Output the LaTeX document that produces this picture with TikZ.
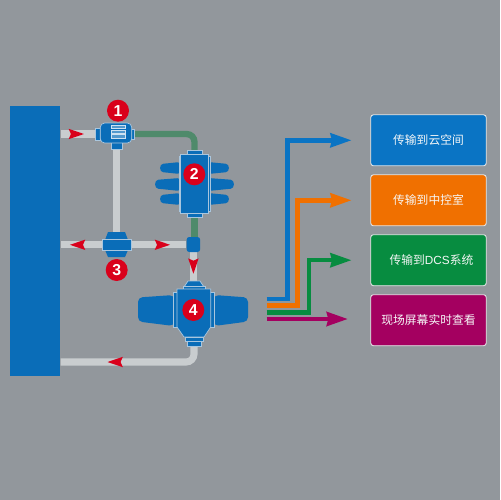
\documentclass[tikz,border=0pt]{standalone}
\usepackage{fontspec}
\setmainfont{Liberation Sans}
\newfontfamily\cjk{Noto Sans CJK SC}
\usetikzlibrary{arrows.meta, backgrounds, decorations.markings}
\definecolor{bgGray}{HTML}{92979C}
\definecolor{partBlue}{HTML}{0A6DB8}
\definecolor{partLine}{HTML}{A9C6DE}
\definecolor{pipeGray}{HTML}{C9CDCF}
\definecolor{pipeGreen}{HTML}{4F8A6B}
\definecolor{flowRed}{HTML}{D9001B}
\definecolor{lineBlue}{HTML}{0A74C4}
\definecolor{lineOrange}{HTML}{F07000}
\definecolor{lineGreen}{HTML}{078C40}
\definecolor{linePurple}{HTML}{A40060}

\begin{document}
\begin{tikzpicture}[
  x=0.02cm, y=-0.02cm,
  part/.style={draw=partLine, fill=partBlue, line width=0.4pt},
  block/.style={rectangle, part, inner sep=0pt},
  wing/.style={fill=partBlue, rounded corners=1.5pt},
  badge/.style={circle, fill=flowRed, draw=none, minimum size=0.44cm, inner sep=0pt, text=white, font=\fontsize{9}{9}\selectfont\bfseries},
  pipe/.style={draw=pipeGray, line width=4pt, rounded corners=4.5pt},
  greenpipe/.style={draw=pipeGreen, line width=3.6pt, rounded corners=4.5pt},
  flowat/.style={postaction={decorate, decoration={markings, mark=at position #1 with {\arrow{Stealth[length=8.6pt, width=5.4pt, inset=1pt, color=flowRed]}}}}},
  feed/.style={line width=2.6pt, -{Stealth[length=12pt, width=7.8pt, inset=0.8pt]}, shorten >=10.6pt},
  target/.style={rectangle, draw=white!75!bgGray, line width=0.5pt, rounded corners=1.5pt, minimum width=2.31cm, minimum height=1.02cm, inner sep=0pt, text=white!92!bgGray, font=\cjk\fontsize{6.7}{8}\selectfont},
]

% === BACKGROUND AND TANK ===
\begin{scope}[on background layer]
\fill[bgGray] (0,0) rectangle (500,500);
\end{scope}
\node[rectangle, fill=partBlue, minimum width=1.02cm, minimum height=5.4cm, inner sep=0pt] (tank) at (35,241) {};

% === DEVICE 1 ===
\node[block, minimum width=0.09cm, minimum height=0.24cm] (pumpleft) at (98,134) {};
\node[block, minimum width=0.06cm, minimum height=0.2cm] (pumpright) at (133,134) {};
\node[block, minimum width=0.23cm, minimum height=0.16cm] (pumpfoot) at (116.8,145) {};
\node[block, rounded corners=2.5pt, minimum width=0.63cm, minimum height=0.4cm] (pump) at (116,133) {};
\draw[part, fill=partBlue!70!white, draw=white!80!partBlue] (111,125) rectangle (125,128.5);
\draw[part, fill=partBlue!70!white, draw=white!80!partBlue] (111,130) rectangle (125,133);
\draw[part, fill=partBlue!70!white, draw=white!80!partBlue] (111,134.5) rectangle (125,138);

% === DEVICE 2 ===
\fill[wing] (180,162) -- (166,163.5) .. controls (159,164) and (159,172) .. (166,172.5) -- (180,174) -- cycle;
\fill[wing] (180,178) -- (161,179.5) .. controls (154,180) and (154,188.5) .. (161,189) -- (180,191) -- cycle;
\fill[wing] (180,193) -- (166,194.5) .. controls (159,195) and (159,203) .. (166,203.5) -- (180,205) -- cycle;
\fill[wing] (208,162) -- (223,163.5) .. controls (230,164) and (230,172) .. (223,172.5) -- (208,174) -- cycle;
\fill[wing] (208,178) -- (228,179.5) .. controls (235,180) and (235,188.5) .. (228,189) -- (208,191) -- cycle;
\fill[wing] (208,193) -- (223,194.5) .. controls (230,195) and (230,203) .. (223,203.5) -- (208,205) -- cycle;
\node[block, minimum width=0.3cm, minimum height=0.1cm] (senstop) at (194.5,153) {};
\node[block, minimum width=0.3cm, minimum height=0.1cm] (sensbot) at (194.5,215) {};
\draw[part] (179,156) rectangle (210,211);
\node[block, minimum width=0.55cm, minimum height=1.18cm] (sensor) at (194.5,183.5) {};

% === DEVICE 3 ===
\draw[part, draw=none] (108,232) -- (125,232) -- (128,240) -- (105,240) -- cycle;
\draw[part, draw=none] (105,250) -- (128,250) -- (125,257) -- (108,257) -- cycle;
\node[block, minimum width=0.57cm, minimum height=0.23cm] (valve) at (117,244.8) {};

% === JUNCTION ===
\node[rectangle, fill=partBlue, rounded corners=1.5pt, minimum width=0.27cm, minimum height=0.3cm, inner sep=0pt] (junction) at (193.4,244.5) {};

% === DEVICE 4 ===
\fill[wing, rounded corners=2.5pt] (174,295) -- (138,297.5) -- (138,321.5) -- (174,326) -- cycle;
\fill[wing, rounded corners=2.5pt] (214,295) -- (248,297.5) -- (248,321.5) -- (214,326) -- cycle;
\draw[part] (173.3,292) rectangle (214.6,327);
\draw[part] (188,281) -- (200,281) -- (204,287) -- (184,287) -- cycle;
\node[block, minimum width=0.44cm, minimum height=0.05cm] (meterbar) at (194,288) {};
\coordinate (metertop) at (194,281);
\draw[part] (177,289) -- (210.7,289) -- (210.7,327) -- (204,337) -- (184,337) -- (177,327) -- cycle;
\draw[part] (185,337) rectangle (203,341);
\node[block, minimum width=0.28cm, minimum height=0.1cm] (meterbot) at (194,343.5) {};

% === BADGES ===
\node[badge] (one) at (118,110.7) {1};
\node[badge] (two) at (194.3,174.3) {2};
\node[badge] (three) at (116.7,270) {3};
\node[badge] (four) at (193.3,310) {4};

% === TARGET BOXES ===
\node[target, fill=lineBlue] (cloud) at (428.5,140.3) {传输到云空间};
\node[target, fill=lineOrange] (control) at (428.5,200.3) {传输到中控室};
\node[target, fill=lineGreen] (dcs) at (428.5,260.2) {\hspace*{3.4pt}传输到{\rmfamily DCS}系统};
\node[target, fill=linePurple] (screen) at (428.5,320.2) {现场屏幕实时查看};

% === PIPES ===
\coordinate (tankback) at (60.5,362);
\begin{scope}[on background layer]
\draw[pipe, flowat=0.68] (tank.east |- pumpleft) -- (pumpleft.west);
\draw[pipe] (pumpfoot) -- (pumpfoot |- valve);
\draw[pipe, flowat=0.79] (valve.west) -- (tank.east |- valve);
\draw[pipe, flowat=0.71] (valve.east) -- (junction.west |- valve);
\draw[pipe, flowat=0.76] (junction.south) -- (junction.south |- metertop);
\draw[pipe, flowat=0.68] (meterbot.south) |- (tankback);
\draw[greenpipe] (pumpright.east) -| (senstop.north);
\draw[greenpipe] (sensbot.south) -- (sensbot.south |- junction.north);
\end{scope}

% === SIGNAL LINES ===
\coordinate (outa) at (266.7,299);
\coordinate (outb) at (266.7,305.7);
\coordinate (outc) at (266.7,312.3);
\coordinate (outd) at (266.7,319);
\draw[feed, lineBlue] (outa) -- ++(21,0) |- (cloud.west);
\draw[feed, lineOrange] (outb) -- ++(31,0) |- (control.west);
\draw[feed, lineGreen] (outc) -- ++(42.3,0) |- (dcs.west);
\draw[feed, linePurple, shorten >=12.7pt] (outd) -- (screen.west |- outd);

\end{tikzpicture}
\end{document}
